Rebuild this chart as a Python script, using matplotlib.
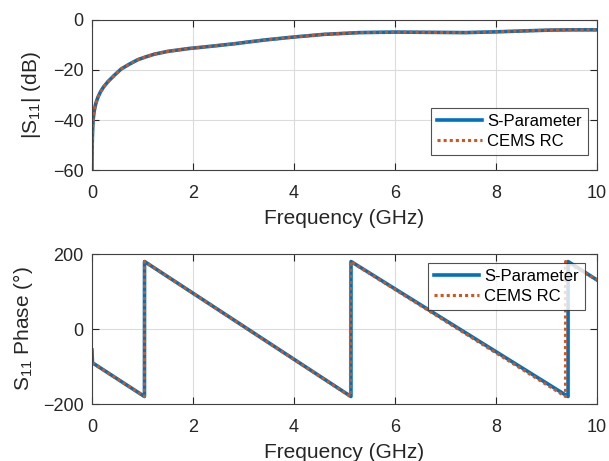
import matplotlib
matplotlib.use("Agg")
import matplotlib.pyplot as plt

plt.rcParams['font.family'] = ['Liberation Sans', 'DejaVu Sans']
plt.rcParams['mathtext.fontset'] = 'custom'
plt.rcParams['mathtext.rm'] = 'Liberation Sans'
plt.rcParams['mathtext.it'] = 'Liberation Sans:italic'

# Magnitude data (GHz, dB)
freq_mag = [0.0, 0.002, 0.005, 0.01, 0.016, 0.024, 0.035, 0.05, 0.07, 0.095, 0.125, 0.17, 0.23, 0.32, 0.45,
            0.58, 0.75, 0.91, 1.08, 1.24, 1.5, 1.9, 2.34, 2.8, 3.4, 3.98, 4.6, 5.3,
            6.0, 6.7, 7.4, 8.0, 8.6, 9.07, 9.5, 10.0]
mag_sparam = [-60.0, -55.0, -49.5, -45.5, -42.5, -40.0, -37.8, -35.8, -33.9, -32.2, -30.6, -28.7, -26.8, -24.6, -22.0,
              -19.6, -17.6, -15.9, -14.7, -13.7, -12.6, -11.5, -10.6, -9.6, -8.1, -6.9, -5.8, -5.1,
              -4.9, -5.0, -5.1, -4.8, -4.4, -4.1, -4.0, -4.0]
mag_cems = list(mag_sparam)

# Phase data (GHz, degrees)
freq_ph_s = [0.0, 0.01, 1.04, 1.041, 5.13, 5.131, 9.43, 9.431, 10.0]
ph_sparam = [-56.0, -90.0, -180.0, 180.0, -180.0, 180.0, -180.0, 180.0, 131.0]
freq_ph_c = [0.0, 1.04, 1.041, 5.12, 5.121, 9.38, 9.381, 10.0]
ph_cems = [-90.0, -180.0, 180.0, -180.0, 180.0, -180.0, 180.0, 131.0]

blue = '#0072BD'
orange = '#D95319'
fs = 13
lfs = 15

fig = plt.figure(figsize=(6.09, 4.61), dpi=100)
ax1 = fig.add_axes([0.151, 0.631, 0.829, 0.326])
ax2 = fig.add_axes([0.151, 0.1236, 0.829, 0.3254])

def style(ax):
    ax.grid(True, color='#dcdcdc', linewidth=0.8)
    ax.set_axisbelow(True)
    ax.tick_params(direction='in', top=True, right=True, length=5, width=0.8,
                   labelsize=fs, colors='#262626')
    ax.tick_params(axis='x', pad=11)
    ax.tick_params(axis='y', pad=6)
    for s in ax.spines.values():
        s.set_color('#404040')
        s.set_linewidth(0.8)
    ax.set_xlim(0, 10)
    ax.set_xticks([0, 2, 4, 6, 8, 10])

ax1.plot(freq_mag, mag_sparam, color=blue, lw=2.6, label='S-Parameter')
ax1.plot(freq_mag, mag_cems, color=orange, lw=2.2, ls=(0, (1, 1)), label='CEMS RC')
style(ax1)
ax1.set_ylim(-60, 0)
ax1.set_yticks([-60, -40, -20, 0])
ax1.set_xlabel('Frequency (GHz)', fontsize=lfs, color='#262626', labelpad=5)
ax1.set_ylabel(r'|S$\mathregular{_{11}}$| (dB)', fontsize=lfs, color='#262626', labelpad=7)
leg1 = ax1.legend(loc='lower right', fontsize=12, frameon=True, fancybox=False,
                  edgecolor='#262626', borderpad=0.35, handlelength=2.7, handletextpad=0.3,
                  labelspacing=0.3, borderaxespad=0, bbox_to_anchor=(0.982, 0.10))
leg1.get_frame().set_linewidth(0.8)

ax2.plot(freq_ph_s, ph_sparam, color=blue, lw=2.6, label='S-Parameter')
ax2.plot(freq_ph_c, ph_cems, color=orange, lw=2.2, ls=(0, (1, 1)), label='CEMS RC')
style(ax2)
ax2.set_ylim(-200, 200)
ax2.set_yticks([-200, 0, 200])
ax2.set_xlabel('Frequency (GHz)', fontsize=lfs, color='#262626', labelpad=5)
ax2.set_ylabel(r'S$\mathregular{_{11}}$ Phase (°)', fontsize=lfs, color='#262626', labelpad=6)
leg2 = ax2.legend(loc='upper right', fontsize=12, frameon=True, fancybox=False,
                  edgecolor='#262626', borderpad=0.35, handlelength=2.7, handletextpad=0.3,
                  labelspacing=0.3, borderaxespad=0, bbox_to_anchor=(0.976, 0.94))
leg2.get_frame().set_linewidth(0.8)

fig.savefig('out.png', dpi=100)
